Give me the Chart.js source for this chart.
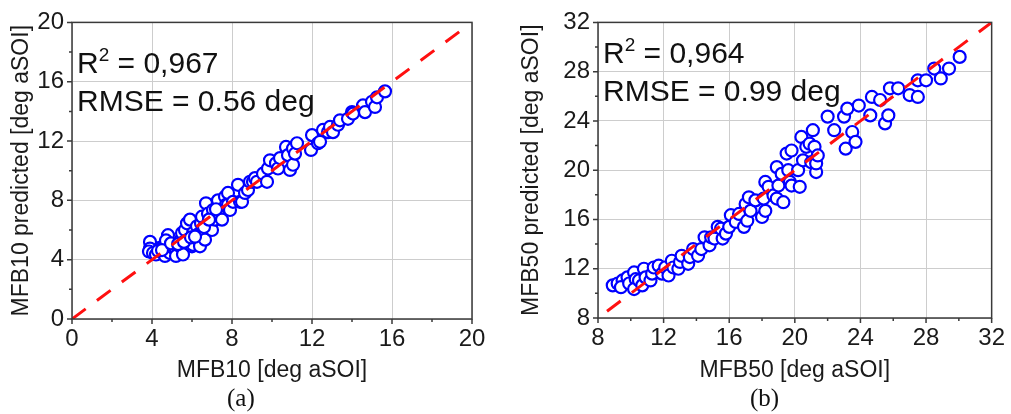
<!DOCTYPE html>
<html lang="en">
<head>
<meta charset="UTF-8">
<title>MFB10 / MFB50 prediction</title>
<script src="https://cdn.jsdelivr.net/npm/chart.js"></script>
<style>
  body { margin: 0; background: #fff; width: 1011px; height: 414px; position: relative; overflow: hidden; }
  .panel { position: absolute; top: 0; }
  .caption { position: absolute; top: 385px; font: 25px "Liberation Serif", "Times New Roman", serif; color: #111; line-height: 26px; }
</style>
</head>
<body>
<div class="panel" style="left:0"><canvas id="chartA" width="505" height="390"></canvas></div>
<div class="panel" style="left:510px"><canvas id="chartB" width="501" height="390"></canvas></div>
<div class="caption" style="left:227px">(a)</div>
<div class="caption" style="left:750px">(b)</div>
<script>
// MFB10: measured vs predicted [deg aSOI]
const mfb10Measured = [
  3.9, 3.9, 3.85, 4.05, 4.2, 4.4, 4.55, 4.65, 4.8, 4.7, 4.65, 4.9, 5.05, 5.2, 5.2, 5.4, 5.45, 5.55,
  5.5, 5.65, 5.75, 5.9, 5.8, 6.0, 6.05, 6.05, 6.25, 6.3, 6.3, 6.4, 6.45, 6.5, 6.55, 6.65, 6.7, 6.8,
  6.9, 6.9, 7.0, 7.05, 7.15, 7.3, 7.4, 7.4, 7.5, 7.65, 7.7, 7.8, 7.9, 7.8, 8.05, 8.3, 8.4, 8.5,
  8.65, 8.8, 8.9, 9.05, 9.15, 9.25, 9.55, 9.75, 9.8, 9.9, 10.2, 10.3, 10.4, 10.7, 10.8, 10.9, 11.05,
  11.05, 11.15, 11.25, 11.95, 12.0, 12.3, 12.4, 12.55, 12.8, 12.9, 13.05, 13.3, 13.4, 13.8, 14.0,
  14.05, 14.55, 14.65, 15.0, 15.15, 15.25, 15.65,
  4.3, 4.5, 4.95, 5.3, 5.6, 5.95, 6.15, 6.6, 6.85, 7.2
];
const mfb10Predicted = [
  5.2, 4.75, 4.55, 4.45, 4.35, 4.8, 4.9, 5.0, 5.65, 5.3, 4.25, 4.45, 4.8, 4.65, 4.25, 4.9, 5.35, 4.35,
  5.8, 6.0, 6.45, 6.7, 5.35, 4.9, 5.0, 5.8, 6.25, 5.7, 5.45, 4.9, 6.45, 6.9, 6.0, 5.35, 7.8, 7.1,
  6.45, 6.25, 6.0, 7.35, 6.7, 8.0, 7.1, 6.9, 6.7, 8.25, 7.7, 7.7, 7.35, 8.5, 7.9, 9.05, 7.9, 7.9,
  8.5, 8.7, 9.25, 9.25, 9.5, 9.25, 9.8, 9.25, 10.15, 10.7, 10.5, 10.15, 10.85, 11.6, 11.05, 10.05, 10.4,
  11.5, 11.15, 11.85, 11.4, 12.4, 11.85, 11.95, 12.75, 12.6, 12.95, 12.6, 13.1, 13.4, 13.5, 13.95,
  13.85, 14.4, 13.95, 14.65, 14.3, 14.95, 15.35,
  4.6, 4.65, 5.1, 5.05, 5.2, 5.5, 5.55, 6.2, 6.7, 7.4
];

// MFB50: measured vs predicted [deg aSOI]
const mfb50Measured = [
  8.9, 9.2, 9.5, 9.4, 9.8, 9.9, 10.2, 10.3, 10.2, 10.5, 10.7, 10.8, 10.9, 11.2, 11.3, 11.4, 11.7,
  11.9, 12.1, 12.3, 12.5, 12.6, 12.9, 13.0, 13.1, 13.5, 13.6, 13.8, 14.1, 14.3, 14.5, 14.8, 14.9,
  15.1, 15.3, 15.5, 15.6, 15.8, 16.0, 16.1, 16.4, 16.6, 16.9, 17.1, 17.0, 17.2, 17.3, 17.6, 18.0,
  18.1, 18.2, 18.2, 18.4, 18.7, 18.9, 19.0, 18.9, 19.2, 19.3, 19.5, 19.6, 19.7, 19.8, 19.8, 20.2,
  20.3, 20.4, 20.5, 20.7, 20.9, 21.0, 21.1, 21.2, 21.3, 21.3, 21.4, 22.0, 22.4, 23.0, 23.2, 23.1,
  23.5, 23.7, 23.9, 24.6, 24.7, 25.2, 25.5, 25.7, 25.8, 26.3, 27.0, 27.5, 27.5, 28.0, 28.5, 28.9,
  29.4, 30.05
];
const mfb50Predicted = [
  10.65, 10.8, 11.05, 10.5, 11.3, 10.8, 11.7, 11.15, 10.35, 11.05, 10.65, 12.0, 11.3, 11.05, 11.6, 12.1, 12.25,
  11.6, 12.1, 11.45, 12.65, 12.1, 12.0, 12.55, 13.05, 12.4, 12.95, 13.6, 13.05, 13.6, 14.55, 13.9, 14.55,
  14.45, 15.4, 15.25, 14.45, 14.85, 15.4, 16.35, 15.8, 16.45, 15.4, 15.9, 17.25, 17.8, 16.7, 17.55, 16.2,
  17.7, 19.05, 16.7, 18.65, 17.95, 20.25, 18.75, 17.7, 19.7, 17.4, 21.35, 20.0, 19.05, 21.6, 18.75, 20.0,
  18.65, 22.7, 20.8, 21.9, 22.15, 20.65, 23.25, 21.9, 19.85, 20.55, 21.2, 24.35, 23.25, 24.35, 25.0, 21.75,
  23.1, 22.3, 25.25, 24.45, 25.95, 25.7, 23.8, 24.45, 26.65, 26.65, 26.1, 25.95, 27.3, 27.3, 28.25, 27.45,
  28.25, 29.2
];

// 1:1 reference lines
const diagA = [0, 19.5];
const diagB = [8.55, 32];

const FONT = '"Liberation Sans", Arial, sans-serif';
const TEXT = '#1a1a1a';

function toPoints(xs, ys) {
  return xs.map((x, i) => ({ x: x, y: ys[i] }));
}

// frame round the plot area plus outward major/minor ticks
const frameTicks = {
  id: 'frameTicks',
  afterDraw(chart) {
    const ctx = chart.ctx;
    const a = chart.chartArea;
    ctx.save();
    ctx.strokeStyle = '#3a3a3a';
    ctx.lineWidth = 1.5;
    ctx.beginPath();
    chart.scales.x.ticks.forEach(t => {
      const px = chart.scales.x.getPixelForValue(t.value);
      const len = t.value % 4 === 0 ? 5 : 3;
      ctx.moveTo(px, a.bottom);
      ctx.lineTo(px, a.bottom + len);
    });
    chart.scales.y.ticks.forEach(t => {
      const py = chart.scales.y.getPixelForValue(t.value);
      const len = t.value % 4 === 0 ? 5 : 3;
      ctx.moveTo(a.left, py);
      ctx.lineTo(a.left - len, py);
    });
    ctx.stroke();
    ctx.strokeRect(a.left, a.top, a.right - a.left, a.bottom - a.top);
    ctx.restore();
  }
};

// R² / RMSE text in the upper-left corner
const statsText = {
  id: 'statsText',
  afterDraw(chart, args, opts) {
    const ctx = chart.ctx;
    const a = chart.chartArea;
    ctx.save();
    ctx.fillStyle = '#111';
    ctx.textBaseline = 'alphabetic';
    ctx.textAlign = 'left';
    let x = a.left + 5;
    const y1 = a.top + opts.firstLine;
    const parts = [
      { text: 'R', sup: false },
      { text: '2', sup: true },
      { text: ' = ' + opts.r2, sup: false }
    ];
    parts.forEach(p => {
      ctx.font = (p.sup ? '19px ' : '30px ') + FONT;
      ctx.fillText(p.text, x, p.sup ? y1 - 12.5 : y1);
      x += ctx.measureText(p.text).width;
    });
    ctx.font = '30px ' + FONT;
    ctx.fillText('RMSE = ' + opts.rmse, a.left + 5, y1 + 38);
    ctx.restore();
  }
};

function makePanel(id, cfg) {
  const canvas = document.getElementById(id);
  const W = canvas.width, H = canvas.height;
  const tickFont = { family: FONT, size: 24 };
  const titleFont = { family: FONT, size: 23 };

  const axis = (min, max, title) => ({
    type: 'linear',
    min: min,
    max: max,
    ticks: {
      stepSize: 2,
      autoSkip: false,
      maxRotation: 0,
      color: TEXT,
      font: tickFont,
      callback: v => (v % 4 === 0 ? v : '')
    },
    grid: {
      drawTicks: false,
      lineWidth: 1,
      color: c => (c.tick && c.tick.value % 4 === 0 ? '#cdcdcd' : 'rgba(0,0,0,0)')
    },
    border: { display: false },
    title: { display: true, text: title, color: TEXT, font: titleFont }
  });

  const xAxis = axis(cfg.min, cfg.max, cfg.xTitle);
  xAxis.ticks.padding = 6;
  xAxis.title.padding = { top: 0, bottom: 6 };
  xAxis.afterFit = s => { s.height = H - cfg.plotBottom; };

  const yAxis = axis(cfg.min, cfg.max, cfg.yTitle);
  yAxis.ticks.padding = 8;
  yAxis.title.padding = { top: 8, bottom: 0 };
  yAxis.afterFit = s => { s.width = cfg.plotLeft; };

  return new Chart(canvas, {
    type: 'scatter',
    data: {
      datasets: [
        {
          data: toPoints(cfg.diag, cfg.diag),
          showLine: true,
          borderColor: '#ff1010',
          borderWidth: 3,
          borderDash: [17, 14],
          pointRadius: 0,
          order: 0
        },
        {
          data: toPoints(cfg.xs, cfg.ys),
          pointStyle: 'circle',
          pointRadius: 6,
          pointHoverRadius: 6,
          borderWidth: 2.2,
          borderColor: '#0000ff',
          backgroundColor: '#ffffff',
          order: 1
        }
      ]
    },
    options: {
      responsive: false,
      animation: false,
      layout: { padding: { top: 22, right: W - cfg.plotRight, left: 0, bottom: 0 } },
      plugins: {
        legend: { display: false },
        tooltip: { enabled: false },
        statsText: { r2: cfg.r2, rmse: cfg.rmse, firstLine: cfg.firstLine }
      },
      scales: { x: xAxis, y: yAxis }
    },
    plugins: [frameTicks, statsText]
  });
}

makePanel('chartA', {
  xs: mfb10Measured, ys: mfb10Predicted, diag: diagA,
  min: 0, max: 20,
  xTitle: 'MFB10 [deg aSOI]', yTitle: 'MFB10 predicted [deg aSOI]',
  r2: '0,967', rmse: '0.56 deg', firstLine: 51,
  plotLeft: 72, plotRight: 472, plotBottom: 319
});

makePanel('chartB', {
  xs: mfb50Measured, ys: mfb50Predicted, diag: diagB,
  min: 8, max: 32,
  xTitle: 'MFB50 [deg aSOI]', yTitle: 'MFB50 predicted [deg aSOI]',
  r2: '0,964', rmse: '0.99 deg', firstLine: 41,
  plotLeft: 88, plotRight: 487, plotBottom: 318
});
</script>
</body>
</html>
